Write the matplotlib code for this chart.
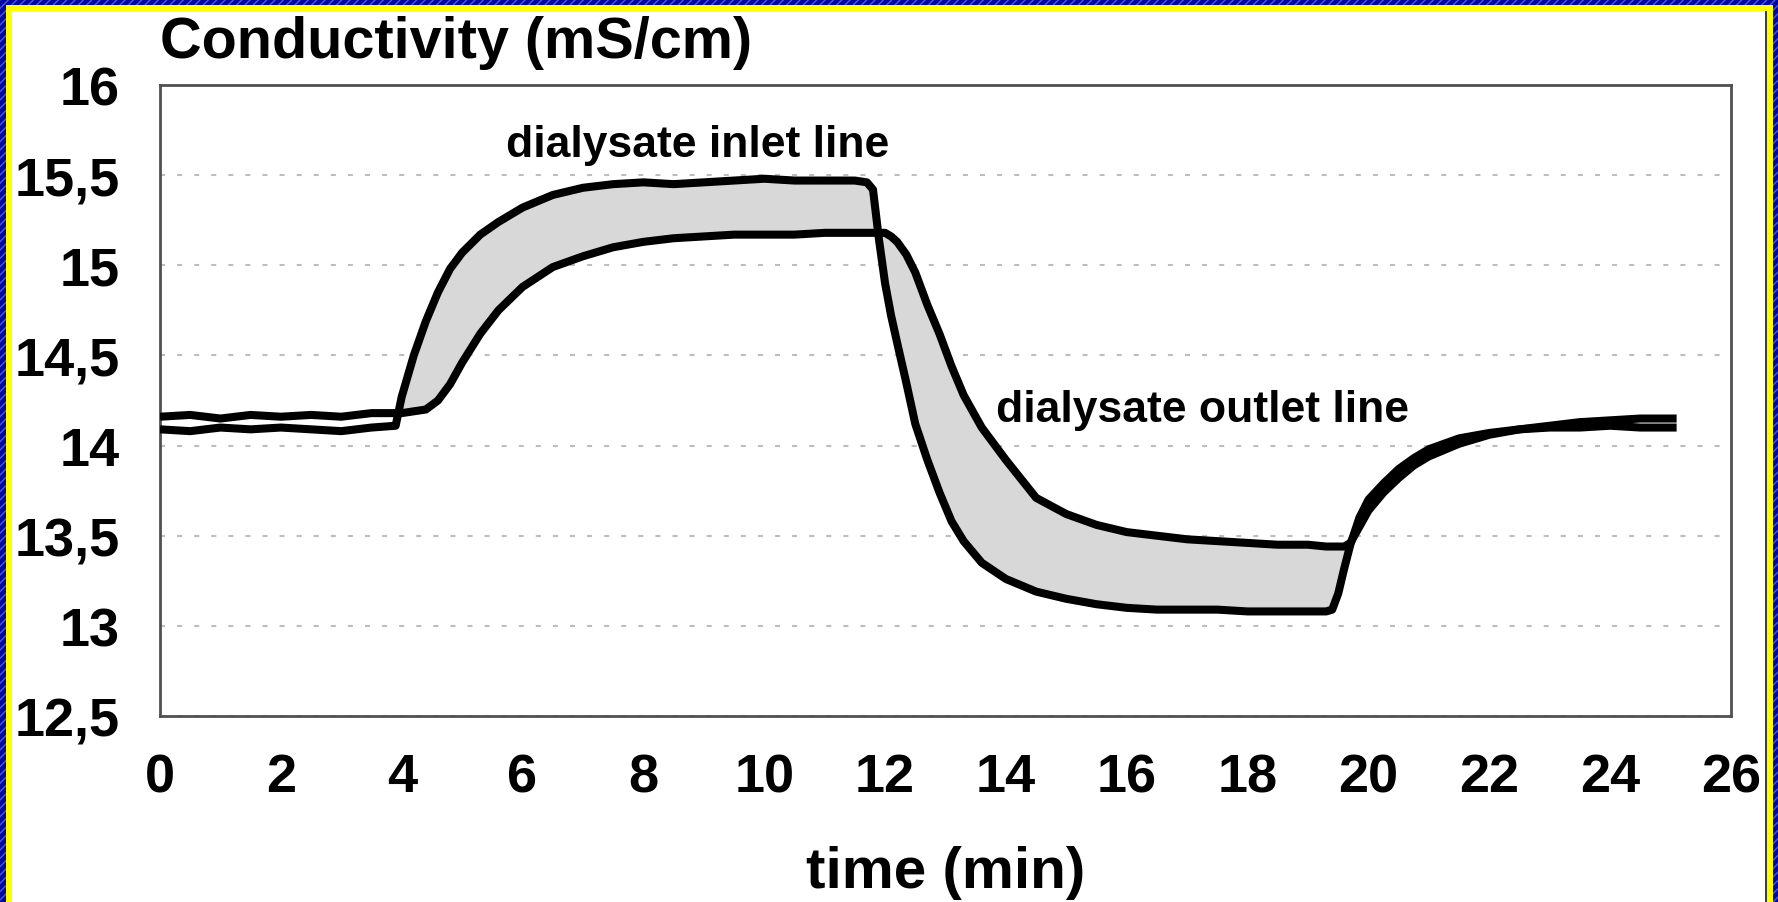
import matplotlib
matplotlib.use("Agg")
import matplotlib.pyplot as plt
from matplotlib.patches import Rectangle
import numpy as np

plt.rcParams['font.family'] = ['Liberation Sans', 'DejaVu Sans']
plt.rcParams['font.weight'] = 'bold'

# ---------------- data ----------------
time_min = [0, 0.5, 1, 1.5, 2, 2.5, 3, 3.5, 3.9, 4.0, 4.2, 4.4, 4.6, 4.8, 5.0, 5.3, 5.6,
            6.0, 6.5, 7.0, 7.5, 8.0, 8.5, 9.0, 9.5, 10.0, 10.5, 11.0, 11.5, 11.7, 11.8,
            11.9, 12.0, 12.1, 12.2, 12.35, 12.5, 12.7, 12.9, 13.1, 13.3, 13.6, 14.0, 14.5,
            15.0, 15.5, 16.0, 16.5, 17.0, 17.5, 18.0, 18.5, 19.0, 19.3, 19.4, 19.5, 19.6,
            19.7, 19.85, 20.0, 20.25, 20.5, 20.75, 21.0, 21.5, 22.0, 22.5, 23.0, 23.5,
            24.0, 24.5, 25.1]

inlet = [14.09, 14.08, 14.10, 14.09, 14.10, 14.09, 14.08, 14.10, 14.11, 14.27, 14.50, 14.69,
         14.85, 14.98, 15.07, 15.17, 15.24, 15.32, 15.39, 15.43, 15.45, 15.46, 15.45, 15.46,
         15.47, 15.48, 15.47, 15.47, 15.47, 15.46, 15.42, 15.14, 14.90, 14.72, 14.57, 14.35,
         14.12, 13.92, 13.74, 13.58, 13.47, 13.35, 13.26, 13.19, 13.15, 13.12, 13.10, 13.09,
         13.09, 13.09, 13.08, 13.08, 13.08, 13.08, 13.09, 13.18, 13.32, 13.45, 13.60, 13.70,
         13.79, 13.87, 13.93, 13.98, 14.04, 14.07, 14.09, 14.10, 14.10, 14.11, 14.10, 14.10]

outlet = [14.16, 14.17, 14.15, 14.17, 14.16, 14.17, 14.16, 14.18, 14.18, 14.18, 14.19, 14.20,
          14.25, 14.34, 14.46, 14.62, 14.75, 14.88, 14.99, 15.05, 15.10, 15.13, 15.15, 15.16,
          15.17, 15.17, 15.17, 15.18, 15.18, 15.18, 15.18, 15.18, 15.18, 15.16, 15.13, 15.06,
          14.96, 14.78, 14.62, 14.44, 14.28, 14.10, 13.92, 13.71, 13.62, 13.56, 13.52, 13.50,
          13.48, 13.47, 13.46, 13.45, 13.45, 13.44, 13.44, 13.44, 13.44, 13.46, 13.55, 13.64,
          13.74, 13.82, 13.89, 13.94, 14.01, 14.06, 14.09, 14.11, 14.13, 14.14, 14.15, 14.15]

fill_start, fill_end = 3.9, 19.7

x_ticks = list(range(0, 27, 2))
y_ticks = [12.5, 13, 13.5, 14, 14.5, 15, 15.5, 16]
y_tick_labels = ['12,5', '13', '13,5', '14', '14,5', '15', '15,5', '16']

title_text = 'Conductivity (mS/cm)'
xlabel_text = 'time (min)'
inlet_label = 'dialysate inlet line'
outlet_label = 'dialysate outlet line'

# ---------------- figure ----------------
W, H = 1778, 903
fig = plt.figure(figsize=(W / 100, H / 100), dpi=100)
fig.patch.set_facecolor('white')

ax_l, ax_r, ax_t, ax_b = 160, 1731, 86, 717
ax = fig.add_axes([ax_l / W, 1 - ax_b / H, (ax_r - ax_l) / W, (ax_b - ax_t) / H])

t = np.array(time_min)
a = np.array(inlet)
b = np.array(outlet)
mask = (t >= fill_start) & (t <= fill_end)
ax.fill_between(t, a, b, where=mask, interpolate=True, color='#d8d8d8', lw=0, zorder=2)
for series in (a, b):
    ax.plot(t, series, color='black', lw=5.8, solid_joinstyle='round',
            solid_capstyle='butt', zorder=3)

ax.set_xlim(0, 26)
ax.set_ylim(12.5, 16)
ax.set_xticks(x_ticks)
ax.set_xticklabels([str(v) for v in x_ticks])
ax.set_yticks(y_ticks)
ax.set_yticklabels(y_tick_labels)
ax.tick_params(axis='both', length=0, labelsize=39, colors='black')
ax.tick_params(axis='y', pad=29)
ax.tick_params(axis='x', pad=26)
for lab in ax.get_xticklabels() + ax.get_yticklabels():
    lab.set_fontweight('bold')

ax.yaxis.grid(True, color='#bdbdbd', lw=1.5, linestyle=(0, (2.4, 5.8)), zorder=1)
ax.xaxis.grid(False)
ax.set_axisbelow(True)
for sp in ax.spines.values():
    sp.set_color('#505050')
    sp.set_linewidth(2.0)

ax.set_title(title_text, loc='left', fontsize=41.5, fontweight='bold', y=1.044, pad=0)
ax.set_xlabel(xlabel_text, fontsize=42, fontweight='bold')
ax.xaxis.set_label_coords(0.5, -0.271)
ax.xaxis.label.set_va('baseline')

ax.text(8.89, 15.67, inlet_label, fontsize=32, fontweight='bold', ha='center', va='center')
ax.text(17.25, 14.20, outlet_label, fontsize=32, fontweight='bold', ha='center', va='center')

# ---------------- border ----------------
def rect_px(x0, y0, x1, y1, **kw):
    fig.patches.append(Rectangle((x0 / W, 1 - y1 / H), (x1 - x0) / W, (y1 - y0) / H,
                                 transform=fig.transFigure, figure=fig, **kw))

blue = dict(facecolor='#0505a0', edgecolor='#4060d8', hatch='////', lw=0)
rect_px(0, 0, W, 6, **blue)
rect_px(0, 0, 6, H, **blue)
rect_px(1773, 0, W, H, **blue)
yellow = dict(facecolor='#ffff00', lw=0)
rect_px(6, 6, 1773, 12, **yellow)
rect_px(6, 6, 12, H, **yellow)
rect_px(1767, 6, 1773, H, **yellow)
rect_px(1765, 12, 1767, H, facecolor='#404040', lw=0)

fig.savefig('out.png', dpi=100)
